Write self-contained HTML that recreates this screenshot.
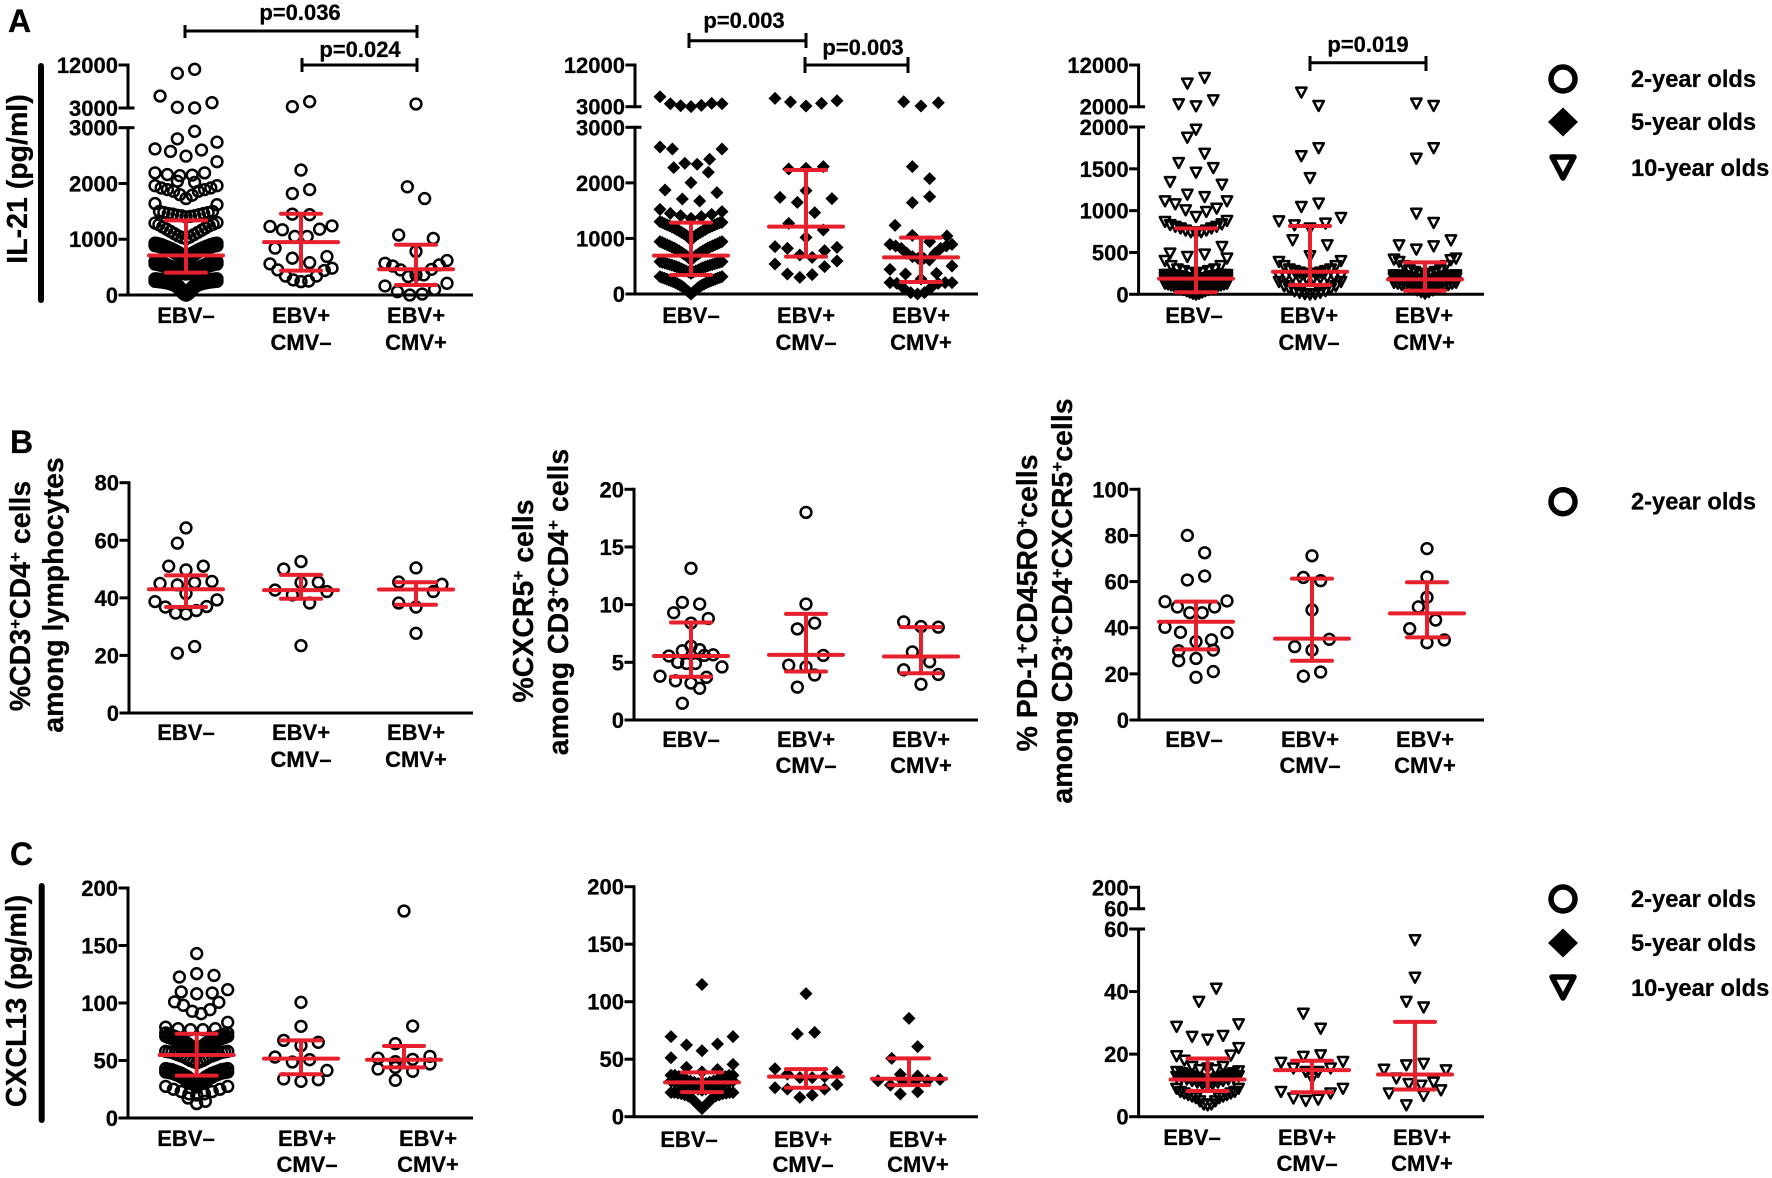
<!DOCTYPE html>
<html lang="en">
<head>
<meta charset="utf-8">
<title>IL-21 and CXCL13 by EBV and CMV status</title>
<style>
html,body{margin:0;padding:0;background:#fff;}
svg{display:block;}
text{font-family:"Liberation Sans",sans-serif;font-weight:bold;fill:#000;stroke:#000;stroke-width:.25;}
.tl{font-size:28.5px;}
.pv{font-size:22px;text-anchor:middle;}
.lg{font-size:23.7px;}
.pl{font-size:32px;}
.br{stroke:#000;stroke-width:3;fill:none;}
</style>
</head>
<body>
<svg id="fig" xmlns="http://www.w3.org/2000/svg" width="1772" height="1178" viewBox="0 0 1772 1178">
<rect width="1772" height="1178" fill="#fff"/>

<text class="pl" x="8" y="32">A</text>
<text class="pl" x="10" y="453">B</text>
<text class="pl" x="10" y="865">C</text>

<line x1="41" y1="66" x2="41" y2="300" stroke="#000" stroke-width="6" stroke-linecap="round"/>
<line x1="41.7" y1="886" x2="41.7" y2="1120" stroke="#000" stroke-width="6" stroke-linecap="round"/>

<text class="tl" text-anchor="middle" transform="translate(27 179) rotate(-90)">IL-21 (pg/ml)</text>
<text class="tl" text-anchor="middle" transform="translate(26 1001) rotate(-90)">CXCL13 (pg/ml)</text>

<text class="tl" text-anchor="middle" transform="translate(30 596) rotate(-90)">%CD3<tspan font-size="17" dy="-9">+</tspan><tspan dy="9">CD4</tspan><tspan font-size="17" dy="-9">+</tspan><tspan dy="9"> cells</tspan></text>
<text class="tl" text-anchor="middle" transform="translate(63 595) rotate(-90)">among lymphocytes</text>

<text class="tl" text-anchor="middle" transform="translate(533 601) rotate(-90)">%CXCR5<tspan font-size="17" dy="-9">+</tspan><tspan dy="9"> cells</tspan></text>
<text class="tl" text-anchor="middle" transform="translate(568 602) rotate(-90)">among CD3<tspan font-size="17" dy="-9">+</tspan><tspan dy="9">CD4</tspan><tspan font-size="17" dy="-9">+</tspan><tspan dy="9"> cells</tspan></text>

<text class="tl" text-anchor="middle" transform="translate(1037 603) rotate(-90)">% PD-1<tspan font-size="17" dy="-9">+</tspan><tspan dy="9">CD45RO</tspan><tspan font-size="17" dy="-9">+</tspan><tspan dy="9">cells</tspan></text>
<text class="tl" text-anchor="middle" transform="translate(1072 601) rotate(-90)">among CD3<tspan font-size="17" dy="-9">+</tspan><tspan dy="9">CD4</tspan><tspan font-size="17" dy="-9">+</tspan><tspan dy="9">CXCR5</tspan><tspan font-size="17" dy="-9">+</tspan><tspan dy="9">cells</tspan></text>

<g>
  <path class="br" d="M185 25V38M185 31H417M417 25V38"/>
  <text class="pv" x="300" y="20">p=0.036</text>
</g>
<g>
  <path class="br" d="M302 58V72M302 65H417M417 58V72"/>
  <text class="pv" x="360" y="57">p=0.024</text>
</g>
<g>
  <path class="br" d="M689 33V48M689 40.7H806M806 33V48"/>
  <text class="pv" x="744" y="28">p=0.003</text>
</g>
<g>
  <path class="br" d="M805 57V73M805 65H908M908 57V73"/>
  <text class="pv" x="863" y="55">p=0.003</text>
</g>
<g>
  <path class="br" d="M1310 56V71M1310 62.7H1426M1426 56V71"/>
  <text class="pv" x="1368" y="52">p=0.019</text>
</g>

<g>
  <circle cx="1563" cy="79" r="12" fill="none" stroke="#000" stroke-width="5.5"/>
  <text class="lg" x="1631" y="87">2-year olds</text>
  <path d="M1563 107.5L1578 122L1563 136.5L1548 122Z" fill="#000"/>
  <text class="lg" x="1631" y="130">5-year olds</text>
  <path d="M1552 157H1574L1563 178Z" fill="none" stroke="#000" stroke-width="5.5" stroke-linejoin="round"/>
  <text class="lg" x="1631" y="176">10-year olds</text>
</g>
<g>
  <circle cx="1563" cy="501.7" r="12" fill="none" stroke="#000" stroke-width="5.5"/>
  <text class="lg" x="1631" y="509.7">2-year olds</text>
</g>
<g>
  <circle cx="1563" cy="899" r="12" fill="none" stroke="#000" stroke-width="5.5"/>
  <text class="lg" x="1631" y="907">2-year olds</text>
  <path d="M1563 928.5L1578 943L1563 957.5L1548 943Z" fill="#000"/>
  <text class="lg" x="1631" y="951">5-year olds</text>
  <path d="M1552 977H1574L1563 998Z" fill="none" stroke="#000" stroke-width="5.5" stroke-linejoin="round"/>
  <text class="lg" x="1631" y="996">10-year olds</text>
</g>
</svg>

<script>
/* ---------- shared categories ---------- */
const categoryLines = [['EBV–'],['EBV+','CMV–'],['EBV+','CMV+']];
const groupKeys = ['ebv-neg','ebv-pos-cmv-neg','ebv-pos-cmv-pos'];

/* ---------- A1: IL-21, 2-year olds. Each group is rows of values, left to right ---------- */
const a1Groups = [
 [[10256,11093],[5512,3140,3010,4117],[2800,2935],[2620,2575,2490,2600,2740],[2190,2160,2140,2150,2190,2390],[2040,2020],
  [1960,1920,1890,1860,1800,1730,1790,1860,1890,1920,1960],
  [1640,1500,1480,1460,1450,1430,1420,1400,1410,1420,1440,1460,1480,1500,1620],
  [1290,1260,1220,1180,1140,1100,1060,1030,1010,1040,1080,1120,1160,1200,1240,1270,1300],
  [930,925,915,905,890,875,860,845,830,810,790,770,750,730,710,690,710,730,750,770,790,810,830,845,860,875,890,905,915,925,930],
  [885,880,870,860,845,830,815,800,785,765,745,725,705,685,665,645,665,685,705,725,745,765,785,800,815,830,845,860,870,880,885],
  [600,595,585,575,565,555,540,525,510,495,480,465,450,440,430,420,430,440,450,465,480,495,510,525,540,555,565,575,585,595,600],
  [555,550,540,530,520,510,495,480,465,450,435,420,405,395,385,375,385,395,405,420,435,450,465,480,495,510,520,530,540,550,555],
  [290,288,285,280,275,270,262,255,245,235,220,200,170,130,80,30,0,30,80,130,170,200,220,235,245,255,262,270,275,280,285,288,290],
  [245,243,240,235,230,225,217,210,200,190,175,155,125,85,45,15,0,15,45,85,125,155,175,190,200,210,217,225,230,235,240,243,245]],
 [[3280,4330],[2240],[1820,1890],[1450,1440],[1230,1170,1050,1050,1180,1240],[840,660,580,690],[558,450,340,270,240,250,340,440,480]],
 [[3840],[1940,1730],[1075,780,1015],[570,520,450,330,360,360,460,540,618],[162,60,0,18,100,210]]
];
const a1Medians = [708,948,462];
const a1Lows = [402,438,180];
const a1Highs = [1338,1458,900];
const a1LowerTicks = [0,1000,2000,3000];
const a1UpperTicks = [3000,12000];

/* ---------- A2: IL-21, 5-year olds ---------- */
const a2Groups = [
 [[5160,3650,3216,3010,3290,3720,3650],[2646,2610,2352,2334,2424,2610],[2274,2004,2190],[1872,1710,1674,1824],[1524,1452,1410,1362,1392,1434,1482],
  [1302,1285,1265,1245,1225,1205,1185,1160,1135,1110,1085,1055,1025,972,1025,1055,1085,1110,1135,1160,1185,1205,1225,1245,1265,1280,1290],
  [942,925,905,885,865,845,825,800,775,750,720,690,650,612,650,690,720,750,775,800,825,845,865,885,905,925,942],
  [582,570,558,545,532,520,505,490,475,455,435,415,395,372,395,415,435,455,475,490,505,520,532,545,558,570,582],
  [312,298,283,268,252,236,220,202,182,160,135,105,70,35,0,35,70,105,135,160,182,202,220,236,252,268,283,298,312]],
 [[4800,4008,3144,3720,4296],[2250,2262,2292],[1860],[1740,1650,1464,1716],[1272,1020,1152],[852,822,702,660,780,840],[540,360,300,348,492,594]],
 [[4080,3144,3864],[2292,2076],[1644,1752],[1236,1056,942,1044],[894,864,822,732,672,642,642,612,732,822,864,894],[444,360,270,372,504],[204,192,102,24,0,24,120,192,204,204]]
];
const a2Medians = [690,1212,660];
const a2Lows = [342,672,216];
const a2Highs = [1284,2232,1014];
const a2LowerTicks = [0,1000,2000,3000];
const a2UpperTicks = [3000,12000];

/* ---------- A3: IL-21, 10-year olds ---------- */
const a3Groups = [
 [[7600,8960],[2640,2160,3600],[1970],[1875,1683],[1572,1457,1512],[1345,1194,1166,1313],[1114,1078,1007,927,987,1027,1114],
  [868,830,810,790,765,745,725,745,765,790,810,840,880],[490,450,478,569],
  [402,340,300,280,260,245,260,280,300,340,430],
  [235,235,232,230,225,220,215,205,195,180,165,150,135,150,165,180,195,205,215,220,225,230,232,235,235],
  [205,205,202,200,195,190,185,175,165,150,135,120,105,120,135,150,165,175,185,190,195,200,202,205,205],
  [175,170,165,160,150,140,130,115,100,85,70,55,40,55,70,85,100,115,130,140,150,160,165,170,175],
  [130,120,110,100,85,70,55,40,25,10,0,10,25,40,55,70,85,100,110,120,130]],
 [[5440,2240],[1654,1750],[1392],[1047,1087],[875,828,790,848,915],[649,458,589],
  [390,340,300,280,262,250,240,250,262,280,300,340,400],[220,215,205,195,190,190,195,205,215,220],[150,100,70,40,20,5,0,5,20,40,70,100,150]],
 [[2800,2240],[1624,1750],[967,856],[589,537,577,648],[418,390,340,290,270,250,240,250,270,290,340,410,430],
  [230,228,225,220,212,205,195,185,175,165,155,165,175,185,195,205,212,220,225,228,230],
  [195,192,188,184,176,168,158,148,136,124,112,124,136,148,158,168,176,184,188,192,195],
  [140,130,115,100,85,70,50,30,12,30,50,70,85,100,115,130,140]]
];
const a3Medians = [187,270,179];
const a3Lows = [24,111,44];
const a3Highs = [788,816,382];
const a3LowerTicks = [0,500,1000,1500,2000];
const a3UpperTicks = [2000,12000];

/* ---------- B1: %CD3+CD4+ ---------- */
const b1Groups = [
 [[64.3],[59,null],[51,49.7,51],[45,44.5,45.3,45.7],[41.5],[38.7,36.8,34.7,34.4,35.6,37,39.3],[20.8,23.1]],
 [[52.6],[50,45.3,45.4],[42.7,41,38.2,42.2],[23.4]],
 [[50.4],[45.5,null,42.2],[null,null,null,44.7],[38.2,36.8,null],[27.7]]
];
const b1Medians = [43,42.7,42.9];
const b1Lows = [36.8,39.7,37.6];
const b1Highs = [47.8,48,45.4];
const b1Ticks = [0,20,40,60,80];

/* ---------- B2: %CXCR5+ ---------- */
const b2Groups = [
 [[13.15],[10.2,10.05],[9.3,8.4,8.8],[6.4],[6,6.1],[null,5.55,5,4.9,4.9,5.6,5.65,null],[3.8,3.4,3.2,3.7,4.6],[1.45,2.75]],
 [[18],[10.05],[7.9,8.4],[4.75,4.6,5.6],[2.85,3.9]],
 [[8.5,8.1,8.05],[5.9,5.05],[4.35,null,3.95],[3.1]]
];
const b2Medians = [5.55,5.65,5.5];
const b2Lows = [3.75,4.2,4.05];
const b2Highs = [8.45,9.2,8.05];
const b2Ticks = [0,5,10,15,20];

/* ---------- B3: %PD-1+CD45RO+ ---------- */
const b3Groups = [
 [[80,72.5],[60.7,62.4],[51.3,49,46.5,46.5,49,51.6],[40.2,38,34,34.7,37.9],[30,26.7,30.3],[25.7,null,21],[18.5]],
 [[71.2],[61.8,60.4],[47.7],[31.8,30.3,35],[19,20.8]],
 [[74.3],[62],[53.2],[49,43.3],[39.6,33.5,34.7]]
];
const b3Medians = [42.6,35.3,46.2];
const b3Lows = [30.6,25.7,35.8];
const b3Highs = [51.3,61.3,59.7];
const b3Ticks = [0,20,40,60,80,100];

/* ---------- C1: CXCL13, 2-year olds ---------- */
const c1Groups = [
 [[143],[122.6,125.5,124],[null,109.6,108,108.7,111.6],[null,101,98,92.8,90.7,94.2,100.6,null],[79,77.7,76.8,76.8,77.7,83.2],
  [74,73,72,71,70,69,67,65,63,61,60,61,63,65,67,69,70,71,72,73,74],
  [71,70,69,68,67,66,64,62,60,58.5,57.5,58.5,60,62,64,66,67,68,69,70,71],
  [58,57.5,57,56,55,54,53,51.5,50,49,48,49,50,51.5,53,54,55,56,57,57.5,58],
  [43,42.5,42,41,40,39,37.5,36,34,32,30,32,34,36,37.5,39,40,41,42,42.5,43],
  [40,39.5,39,38,37,35.5,34,32.5,31,29,27,29,31,32.5,34,35.5,37,38,39,39.5,40],
  [27.5,25,23,21,20,21,23,25,27.5],[17.4,14.5],[12.5]],
 [[100.6],[79.7],[67.5,62.9,65.8],[53,48.7,50.7,41.4],[34,31.9,33.3]],
 [[180],[64.6,80],[52,49,51,53.6],[42.6,44,40.6,47],[32.8,null]]
];
const c1Medians = [54.8,51.6,50.7];
const c1Lows = [36.8,38,44];
const c1Highs = [73.3,67.5,62.6];
const c1Ticks = [0,50,100,150,200];

/* ---------- C2: CXCL13, 5-year olds ---------- */
const c2Groups = [
 [[115],[69.6,62.3,57.4,63.2,69.6],[51.3,42.9,39,41,45.5],
  [36,36,35,33,32,31,30,29,28,29,30,31,32,33,35,36,36],
  [31,30,29,28,27,26,25,24,23,24,25,26,27,28,29,30,31],
  [21,21,20.5,20,19,18,16,13,10,7,10,13,16,18,19,20,20.5,21,21]],
 [[107],[72,73.3],[41.7,37,34,34,34.8,38.8],[25.2,24,16.8,18.8,24,28]],
 [[85.5],[null,60.9],[50.7,null,null],[36.8,35.4],[31.3,27.5,31,31,31.5,32.5],[19.7,21.7]]
];
const c2Medians = [29.9,34.8,33];
const c2Lows = [21.4,25.2,27.5];
const c2Highs = [38.5,41.4,50.7];
const c2Ticks = [0,50,100,150,200];

/* ---------- C3: CXCL13, 10-year olds ---------- */
const c3Groups = [
 [[36.8,41],[28.8,25.6,24.7,25.9,29.6],[19.4,18,16,15,15.5,15,16,19.6,22],
  [14.4,14,13.5,13,12.5,12,11.5,12,12.5,13,13.5,14,14.6],
  [12.8,12.5,12,11.5,11,10.5,10,10.5,11,11.5,12,12.5,13],
  [9,8,7.5,7,6.5,6,5,4,3.7,4,5,6,6.5,7,7.5,8,9]],
 [[33,28.2],[19.2,19.7],[17.3,15.5,14.4,14.4,15.5,17.6],[12.3],[8,5.9,5.1,5.5,7.5,9]],
 [[56.5],[44.5],[36.8,35],[16.5,17],[15.1,12.3,10.5,10,11,14.9],[7.5,3.7,6.7,8.5]]
];
const c3Medians = [11.9,14.9,13.5];
const c3Lows = [8.2,7.8,8.7];
const c3Highs = [18.6,17.9,30.3];
const c3LowerTicks = [0,20,40,60];
const c3UpperTicks = [60,200];

/* ---------- panel geometry ---------- */
const panels = [
 {id:'a1',marker:'circle',groups:a1Groups,med:a1Medians,lo:a1Lows,hi:a1Highs,lowerTicks:a1LowerTicks,upperTicks:a1UpperTicks,
  axisX:128,endX:473,base:295,lowerTop:127.7,upperBase:108,upperTop:65,centers:[186,301,416],labelX:[186,301,416],labelY:[323,350]},
 {id:'a2',marker:'diamond',groups:a2Groups,med:a2Medians,lo:a2Lows,hi:a2Highs,lowerTicks:a2LowerTicks,upperTicks:a2UpperTicks,
  axisX:635,endX:978,base:294,lowerTop:127.3,upperBase:106.7,upperTop:65,centers:[691,806,921],labelX:[691,806,921],labelY:[323,350]},
 {id:'a3',marker:'triangle',groups:a3Groups,med:a3Medians,lo:a3Lows,hi:a3Highs,lowerTicks:a3LowerTicks,upperTicks:a3UpperTicks,
  axisX:1138.6,endX:1484,base:294.3,lowerTop:127,upperBase:106.7,upperTop:65,centers:[1196,1310,1425],labelX:[1194,1309,1424],labelY:[323,350]},
 {id:'b1',marker:'circle',groups:b1Groups,med:b1Medians,lo:b1Lows,hi:b1Highs,lowerTicks:b1Ticks,
  axisX:129,endX:473,base:713,lowerTop:482.7,centers:[186,301,416],labelX:[186,301,416],labelY:[740,767]},
 {id:'b2',marker:'circle',groups:b2Groups,med:b2Medians,lo:b2Lows,hi:b2Highs,lowerTicks:b2Ticks,
  axisX:634,endX:978,base:720,lowerTop:489.3,centers:[691,806,921],labelX:[691,806,921],labelY:[747,773]},
 {id:'b3',marker:'circle',groups:b3Groups,med:b3Medians,lo:b3Lows,hi:b3Highs,lowerTicks:b3Ticks,
  axisX:1139,endX:1484,base:720,lowerTop:489.3,centers:[1196,1312,1427],labelX:[1194,1310,1425],labelY:[747,773]},
 {id:'c1',marker:'circle',groups:c1Groups,med:c1Medians,lo:c1Lows,hi:c1Highs,lowerTicks:c1Ticks,
  axisX:128,endX:473,base:1118,lowerTop:888,centers:[196.7,301,404],labelX:[186,307,428],labelY:[1146,1172]},
 {id:'c2',marker:'diamond',groups:c2Groups,med:c2Medians,lo:c2Lows,hi:c2Highs,lowerTicks:c2Ticks,
  axisX:634,endX:978,base:1116.7,lowerTop:886.7,centers:[702,806,909],labelX:[689,803,918],labelY:[1147,1172]},
 {id:'c3',marker:'triangle',groups:c3Groups,med:c3Medians,lo:c3Lows,hi:c3Highs,lowerTicks:c3LowerTicks,upperTicks:c3UpperTicks,
  axisX:1138.6,endX:1484,base:1116.7,lowerTop:929,upperBase:908.7,upperTop:887.3,centers:[1207.6,1312,1415],labelX:[1192,1307,1422],labelY:[1145,1171]}
];

/* ---------- drawing ---------- */
const svg = document.getElementById('fig');
const NS = 'http://www.w3.org/2000/svg';
const RED = '#e7202e';
const SPACING = 17.3, HALF = 31;

function make(tag, parent, attrs){
  const el = document.createElementNS(NS, tag);
  for (const k in attrs) el.setAttribute(k, attrs[k]);
  parent.appendChild(el);
  return el;
}
function blackLine(parent, x1, y1, x2, y2){
  return make('line', parent, {x1, y1, x2, y2, stroke:'#000', 'stroke-width':3});
}

panels.forEach(function(p){
  const lowerTicks = p.lowerTicks, upperTicks = p.upperTicks || null;
  const lowerMax = lowerTicks[lowerTicks.length-1];
  const yLower = function(v){ return p.base - v/lowerMax*(p.base-p.lowerTop); };
  const yUpper = function(v){
    const a = upperTicks[0], b = upperTicks[upperTicks.length-1];
    return p.upperBase - (v-a)/(b-a)*(p.upperBase-p.upperTop);
  };
  const y = function(v){ return (upperTicks && v>lowerMax) ? yUpper(v) : yLower(v); };

  const g = make('g', svg, {});
  
  

  /* axes */
  const axis = make('g', g, {});
  
  
  blackLine(axis, p.axisX, p.base, p.axisX, p.lowerTop-1.5);
  if (upperTicks) blackLine(axis, p.axisX, p.upperBase+1.5, p.axisX, p.upperTop-1.5);
  const tick = function(v, yy, crossing){
    const t = blackLine(axis, p.axisX-9.5, yy, p.axisX+(crossing?6.5:0), yy);
    
    
    const lab = make('text', axis, {x:p.axisX-10, y:yy+8, 'text-anchor':'end', 'font-size':22});
    lab.textContent = String(v);
    
    
  };
  lowerTicks.forEach(function(v, i){ tick(v, yLower(v), !!upperTicks && i===lowerTicks.length-1); });
  if (upperTicks) upperTicks.forEach(function(v, i){ tick(v, yUpper(v), i===0); });

  const xAxis = blackLine(g, p.axisX-1, p.base, p.endX, p.base);
  
  

  /* category labels */
  categoryLines.forEach(function(lines, i){
    lines.forEach(function(s, j){
      const t = make('text', g, {x:p.labelX[i], y:p.labelY[j], 'text-anchor':'middle', 'font-size':22});
      t.textContent = s;
      
      
    });
  });

  /* points */
  p.groups.forEach(function(rows, gi){
    const series = make('g', g, {});
    
    
    rows.forEach(function(row){
      const n = row.length;
      const step = n>1 ? Math.min(SPACING, 2*HALF/(n-1)) : 0;
      row.forEach(function(v, i){
        if (v===null) return;
        const cx = p.centers[gi] + (i-(n-1)/2)*step;
        const cy = y(v);
        let m;
        if (p.marker==='circle'){
          m = make('circle', series, {cx:cx, cy:cy, r:5.4, fill:'none', stroke:'#000', 'stroke-width':2.5});
        } else if (p.marker==='diamond'){
          m = make('path', series, {d:'M'+cx+' '+(cy-6.5)+'L'+(cx+6.5)+' '+cy+'L'+cx+' '+(cy+6.5)+'L'+(cx-6.5)+' '+cy+'Z', fill:'#000'});
        } else {
          m = make('path', series, {d:'M'+(cx-5.2)+' '+(cy-4.7)+'L'+(cx+5.2)+' '+(cy-4.7)+'L'+cx+' '+(cy+5.2)+'Z', fill:'none', stroke:'#000', 'stroke-width':2.5, 'stroke-linejoin':'round'});
        }
        
        
      });
    });
  });

  /* median and IQR */
  p.med.forEach(function(v, gi){
    const cx = p.centers[gi];
    const e = make('g', g, {stroke:RED, 'stroke-width':4, 'stroke-linecap':'round'});
    
    
    make('line', e, {x1:cx, x2:cx, y1:y(p.lo[gi]), y2:y(p.hi[gi])});
    make('line', e, {x1:cx-20, x2:cx+20, y1:y(p.lo[gi]), y2:y(p.lo[gi])});
    make('line', e, {x1:cx-20, x2:cx+20, y1:y(p.hi[gi]), y2:y(p.hi[gi])});
    make('line', e, {x1:cx-37, x2:cx+37, y1:y(v), y2:y(v)});
  });
});
</script>
</body>
</html>
